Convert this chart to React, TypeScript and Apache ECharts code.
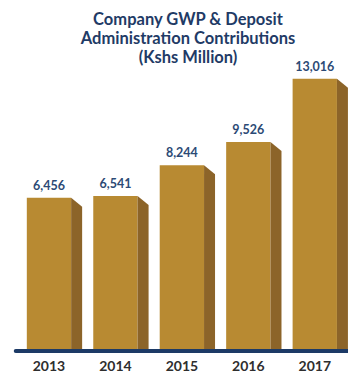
import React, { useEffect, useRef } from 'react';
import * as echarts from 'echarts';

const years = ['2013', '2014', '2015', '2016', '2017'];
const contributions = [6456, 6541, 8244, 9526, 13016];
const titleLines = ['Company GWP & Deposit', 'Administration Contributions', '(Kshs Million)'];

const AXIS_MIN = -1900;
const AXIS_MAX = 14000;

export default function App() {
  const ref = useRef<HTMLDivElement>(null);
  useEffect(() => {
    const chart = echarts.init(ref.current!, null, { renderer: 'svg' });
    const fmt = (v: number) => v.toLocaleString('en-US');
    chart.setOption({
      animation: false,
      graphic: [
        {
          type: 'text',
          x: 188,
          y: 9,
          style: {
            text: titleLines.join('\n'),
            align: 'center',
            textAlign: 'center',
            verticalAlign: 'top',
            textVerticalAlign: 'top',
            fontFamily: 'Lato',
            fontWeight: 'bold',
            fontSize: 16.5,
            lineHeight: 19,
            fill: '#1f3b66',
          },
        },
      ],
      grid: { left: 15.75, width: 337.5, top: 61, bottom: 22 },
      xAxis: {
        type: 'category',
        data: years,
        offset: 2,
        axisLine: { onZero: false, lineStyle: { color: '#1c3a66', width: 4 } },
        axisTick: { show: false },
        axisLabel: { margin: 7, fontFamily: 'Lato', fontWeight: 'bold', fontSize: 14, color: '#2e2e2e' },
      },
      yAxis: { type: 'value', min: AXIS_MIN, max: AXIS_MAX, show: false, splitLine: { show: false } },
      series: [
        {
          type: 'custom',
          data: contributions.map((v, i) => [i, v]),
          encode: { x: 0, y: 1 },
          renderItem: (params: any, api: any) => {
            const idx = api.value(0);
            const val = api.value(1);
            const topPt = api.coord([idx, val]);
            const basePt = api.coord([idx, AXIS_MIN]);
            const bw = api.size([1, 0])[0];
            const fw = bw * 0.667;
            const cx = topPt[0];
            const top = topPt[1];
            const bottom = basePt[1];
            const xl = cx - fw / 2;
            const xr = cx + fw / 2;
            return {
              type: 'group',
              children: [
                {
                  type: 'rect',
                  shape: { x: xl, y: top, width: fw, height: bottom - top },
                  style: { fill: '#b88a32' },
                },
                {
                  type: 'polygon',
                  shape: {
                    points: [
                      [xr, top],
                      [xr + 11, top + 9],
                      [xr + 11, bottom],
                      [xr, bottom],
                    ],
                  },
                  style: { fill: '#8c6429' },
                },
                {
                  type: 'text',
                  x: cx,
                  y: top - 6,
                  style: {
                    text: fmt(val),
                    align: 'center',
                    textAlign: 'center',
                    verticalAlign: 'bottom',
                    textVerticalAlign: 'bottom',
                    fontFamily: 'Lato',
                    fontWeight: 'bold',
                    fontSize: 12.5,
                    fill: '#2c4a75',
                  },
                },
              ],
            };
          },
        },
      ],
    });
    return () => chart.dispose();
  }, []);
  return (
    <div
      ref={ref}
      style={{ position: 'fixed', left: 0, top: 0, width: 348, height: 372, background: '#ffffff' }}
    />
  );
}
